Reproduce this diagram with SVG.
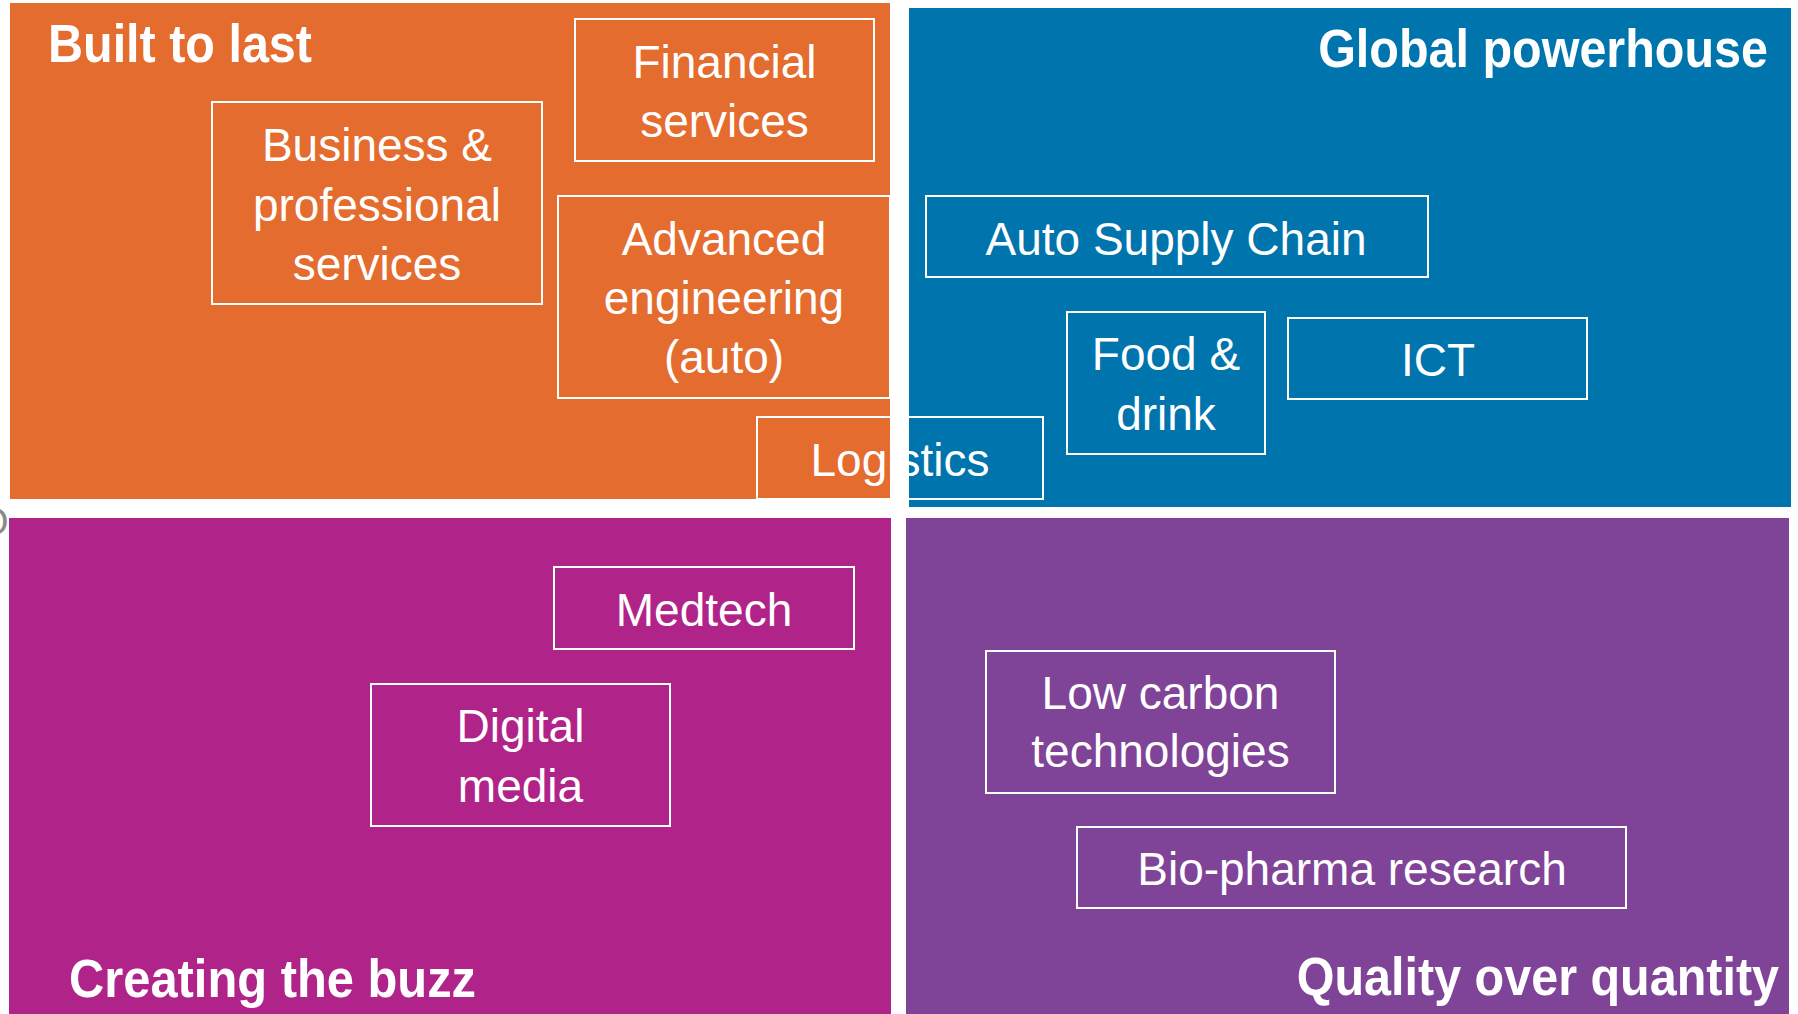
<svg xmlns="http://www.w3.org/2000/svg" width="1798" height="1014" viewBox="0 0 1798 1014">
  <style>
    .quad { stroke: none; }
    .box { fill: none; stroke: #ffffff; stroke-width: 2; }
    .lbl { font-family: "Liberation Sans", Arial, sans-serif; font-size: 46px; fill: #ffffff; text-anchor: middle; }
    .title { font-family: "Liberation Sans", Arial, sans-serif; font-size: 53px; font-weight: bold; fill: #ffffff; }
    .title.right { text-anchor: end; }
  </style>
  <rect x="0" y="0" width="1798" height="1014" fill="#ffffff"/>

  <!-- quadrant backgrounds -->
  <g id="quadrants">
    <rect id="q-built" class="quad" x="10" y="3" width="880" height="496" fill="#E56C2F"/>
    <rect id="q-global" class="quad" x="909" y="8" width="882" height="499" fill="#0074AD"/>
    <rect id="q-buzz" class="quad" x="9" y="518" width="882" height="496" fill="#B0248A"/>
    <rect id="q-quality" class="quad" x="906" y="518" width="883" height="496" fill="#7F4397"/>
  </g>

  <!-- stray grey glyph clipped at the left edge -->
  <text x="-21" y="535" font-family="Liberation Sans, Arial, sans-serif" font-size="38" fill="#8a8a8a">O</text>

  <!-- quadrant titles (right-hand ones condensed horizontally) -->
  <g id="titles">
    <text class="title" x="48" y="62" textLength="264" lengthAdjust="spacingAndGlyphs">Built to last</text>
    <text class="title right" transform="translate(1768 67) scale(0.915 1)">Global powerhouse</text>
    <text class="title" x="69" y="997" textLength="407" lengthAdjust="spacingAndGlyphs">Creating the buzz</text>
    <text class="title right" transform="translate(1779 995) scale(0.915 1)">Quality over quantity</text>
  </g>

  <!-- sector boxes -->
  <g id="node-financial">
    <rect class="box" x="575" y="19" width="299" height="142"/>
    <text class="lbl" x="724.5" y="78">Financial</text>
    <text class="lbl" x="724.5" y="137">services</text>
  </g>
  <g id="node-business">
    <rect class="box" x="212" y="102" width="330" height="202"/>
    <text class="lbl" x="377" y="161">Business &amp;</text>
    <text class="lbl" x="377" y="221">professional</text>
    <text class="lbl" x="377" y="280">services</text>
  </g>
  <g id="node-advanced">
    <rect class="box" x="558" y="196" width="332" height="202"/>
    <text class="lbl" x="724" y="255">Advanced</text>
    <text class="lbl" x="724" y="314">engineering</text>
    <text class="lbl" x="724" y="373">(auto)</text>
  </g>
  <g id="node-logistics">
    <rect class="box" x="757" y="417" width="286" height="82"/>
    <text class="lbl" x="900" y="476">Logistics</text>
  </g>
  <g id="node-auto">
    <rect class="box" x="926" y="196" width="502" height="81"/>
    <text class="lbl" x="1176" y="255">Auto Supply Chain</text>
  </g>
  <g id="node-food">
    <rect class="box" x="1067" y="312" width="198" height="142"/>
    <text class="lbl" x="1166" y="370">Food &amp;</text>
    <text class="lbl" x="1166" y="430">drink</text>
  </g>
  <g id="node-ict">
    <rect class="box" x="1288" y="318" width="299" height="81"/>
    <text class="lbl" x="1438" y="376">ICT</text>
  </g>
  <g id="node-medtech">
    <rect class="box" x="554" y="567" width="300" height="82"/>
    <text class="lbl" x="704" y="626">Medtech</text>
  </g>
  <g id="node-digital">
    <rect class="box" x="371" y="684" width="299" height="142"/>
    <text class="lbl" x="520.5" y="742">Digital</text>
    <text class="lbl" x="520.5" y="802">media</text>
  </g>
  <g id="node-lowcarbon">
    <rect class="box" x="986" y="651" width="349" height="142"/>
    <text class="lbl" x="1160.5" y="709">Low carbon</text>
    <text class="lbl" x="1160.5" y="767">technologies</text>
  </g>
  <g id="node-biopharma">
    <rect class="box" x="1077" y="827" width="549" height="81"/>
    <text class="lbl" x="1352" y="885">Bio-pharma research</text>
  </g>

  <!-- no connectors in this chart -->
  <g id="connectors"/>
</svg>
